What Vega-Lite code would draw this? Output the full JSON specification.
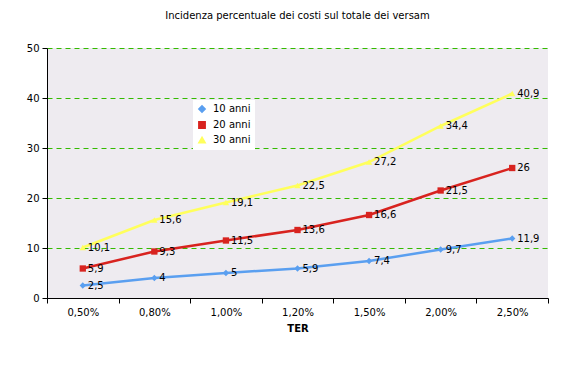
{
  "$schema": "https://vega.github.io/schema/vega-lite/v6.json",
  "width": 501,
  "height": 250,
  "autosize": {"type": "none"},
  "padding": {"left": 47, "top": 48, "right": 16, "bottom": 86},
  "background": "white",
  "title": {"text": "Incidenza percentuale dei costi sul totale dei versam", "fontSize": 10, "fontWeight": "normal", "font": "DejaVu Sans", "color": "black", "offset": 22, "anchor": "middle"},
  "config": {
    "view": {"fill": "#eeebf0", "stroke": null},
    "font": "DejaVu Sans"
  },
  "data": {"values": [
    {"ter": "0,50%", "serie": "10 anni", "v": 2.5, "label": "2,5"},
    {"ter": "0,80%", "serie": "10 anni", "v": 4, "label": "4"},
    {"ter": "1,00%", "serie": "10 anni", "v": 5, "label": "5"},
    {"ter": "1,20%", "serie": "10 anni", "v": 5.9, "label": "5,9"},
    {"ter": "1,50%", "serie": "10 anni", "v": 7.4, "label": "7,4"},
    {"ter": "2,00%", "serie": "10 anni", "v": 9.7, "label": "9,7"},
    {"ter": "2,50%", "serie": "10 anni", "v": 11.9, "label": "11,9"},
    {"ter": "0,50%", "serie": "20 anni", "v": 5.9, "label": "5,9"},
    {"ter": "0,80%", "serie": "20 anni", "v": 9.3, "label": "9,3"},
    {"ter": "1,00%", "serie": "20 anni", "v": 11.5, "label": "11,5"},
    {"ter": "1,20%", "serie": "20 anni", "v": 13.6, "label": "13,6"},
    {"ter": "1,50%", "serie": "20 anni", "v": 16.6, "label": "16,6"},
    {"ter": "2,00%", "serie": "20 anni", "v": 21.5, "label": "21,5"},
    {"ter": "2,50%", "serie": "20 anni", "v": 26, "label": "26"},
    {"ter": "0,50%", "serie": "30 anni", "v": 10.1, "label": "10,1"},
    {"ter": "0,80%", "serie": "30 anni", "v": 15.6, "label": "15,6"},
    {"ter": "1,00%", "serie": "30 anni", "v": 19.1, "label": "19,1"},
    {"ter": "1,20%", "serie": "30 anni", "v": 22.5, "label": "22,5"},
    {"ter": "1,50%", "serie": "30 anni", "v": 27.2, "label": "27,2"},
    {"ter": "2,00%", "serie": "30 anni", "v": 34.4, "label": "34,4"},
    {"ter": "2,50%", "serie": "30 anni", "v": 40.9, "label": "40,9"}
  ]},
  "encoding": {
    "x": {
      "field": "ter", "type": "ordinal", "sort": null, "bandPosition": 0.5,
      "scale": {"type": "band", "paddingInner": 0, "paddingOuter": 0},
      "axis": {"title": "TER", "titleFontSize": 10, "titleFontWeight": "bold", "titleColor": "black", "titlePadding": 6,
               "labelAngle": 0, "labelFontSize": 10, "labelColor": "black", "labelPadding": 4,
               "tickBand": "extent", "tickColor": "black", "tickSize": 5, "domainColor": "black", "grid": false}
    },
    "y": {
      "field": "v", "type": "quantitative",
      "scale": {"domain": [0, 50], "nice": false},
      "axis": {"title": null, "values": [0, 10, 20, 30, 40, 50], "labelFontSize": 10, "labelColor": "black", "labelPadding": 3,
               "tickColor": "black", "tickSize": 5, "domainColor": "black",
               "grid": true, "gridColor": "#33bb00", "gridDash": [5, 4], "gridWidth": 1}
    },
    "color": {
      "field": "serie", "type": "nominal",
      "scale": {"domain": ["10 anni", "20 anni", "30 anni"], "range": ["#5a9ff0", "#d8231f", "#ffff5c"]},
      "legend": {"title": null, "orient": "none", "legendX": 146, "legendY": 52, "fillColor": "white",
                 "padding": 4, "labelFontSize": 10, "labelColor": "black", "symbolSize": 40, "rowPadding": 2, "labelOffset": 6}
    }
  },
  "layer": [
    {"mark": {"type": "line", "strokeWidth": 2.5}},
    {"mark": {"type": "point", "filled": true, "size": 40, "opacity": 1},
     "encoding": {"shape": {"field": "serie", "type": "nominal", "scale": {"domain": ["10 anni", "20 anni", "30 anni"], "range": ["diamond", "square", "triangle-up"]}, "legend": null}}},
    {"mark": {"type": "text", "align": "left", "dx": 5, "baseline": "middle", "fontSize": 10, "color": "black"},
     "encoding": {"text": {"field": "label"}, "color": {"value": "black"}}}
  ]
}
